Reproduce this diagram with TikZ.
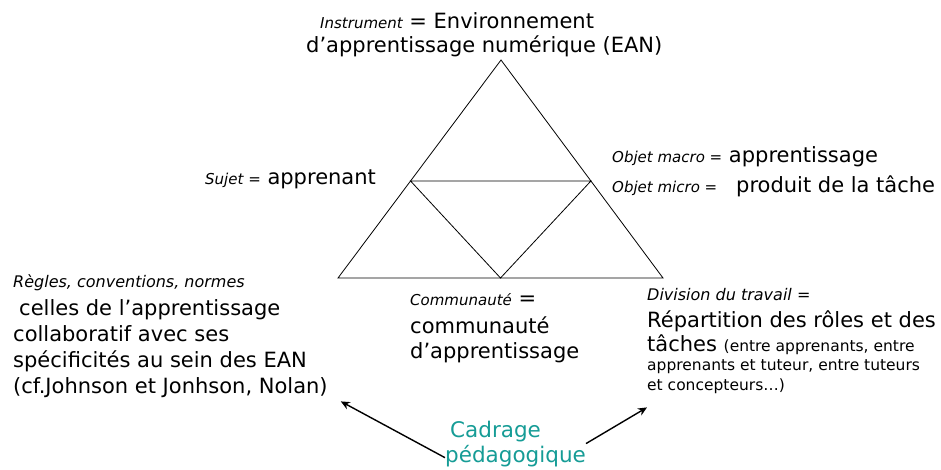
\documentclass[tikz,border=0pt]{standalone}
\usepackage{fontspec}
\setmainfont{DejaVu Sans}
\usepackage{xcolor}
\usepackage{tikz}
\usetikzlibrary{calc,arrows.meta}
\definecolor{ink}{HTML}{000000}
\definecolor{cadre}{HTML}{169C96}
\newcommand{\roletxt}[1]{{\fontsize{15}{18}\selectfont\itshape #1}}
\tikzset{
  main/.style={anchor=base west, inner sep=0pt, text=ink, font=\fontsize{21}{26}\selectfont},
  role/.style={anchor=base west, inner sep=0pt, text=ink, font=\fontsize{16}{19}\selectfont\itshape},
  small/.style={anchor=base west, inner sep=0pt, text=ink, font=\fontsize{15.5}{19}\selectfont},
  tri/.style={draw=ink, line width=0.8pt, line join=miter},
  arr/.style={draw=ink, line width=1.4pt, -{Stealth[length=9pt,width=8pt]}},
}

\begin{document}
\begin{tikzpicture}[x=1pt,y=-1pt]
\useasboundingbox (0,0) rectangle (941,470);
% triangle
\coordinate (apex) at (501,60);
\coordinate (bl) at (338,278);
\coordinate (br) at (663,278);
\coordinate (ml) at ($(apex)!0.555!(bl)$);
\coordinate (mr) at ($(apex)!0.555!(br)$);
\coordinate (mb) at ($(bl)!0.5!(br)$);
\draw[tri] (apex)--(bl)--(br)--cycle;
\draw[tri] (ml)--(mr)--(mb)--cycle;
% poles (multi-line nodes sit on their last baseline)
\node[main] (instr) at (320,29) {\roletxt{Instrument} = Environnement};
\node[main] (ean) at (306,53) {d’apprentissage numérique (EAN)};
\node[main] (sujet) at (205,185) {\roletxt{Sujet =} apprenant};
\node[main] (objmacro) at (612,163) {\roletxt{Objet macro =} apprentissage};
\node[main] (objmicro) at (612,193) {\roletxt{Objet micro =}\hspace{0.9em}produit de la tâche};
\node[role] (rules) at (13,287) {Règles, conventions, normes};
\node[main, align=left] (rulestext) at (13,393)
  {\hspace{6pt}celles de l’apprentissage\\collaboratif avec ses\\spécificités au sein des EAN\\(cf.Johnson et Jonhson, Nolan)};
\node[main] (commu) at (410,305) {\roletxt{Communauté} =};
\node[main, align=left, font=\fontsize{21}{25}\selectfont] (commutext) at (410,358) {communauté\\d’apprentissage};
\node[role] (divis) at (647,300) {Division du travail =};
\node[main] (repart) at (647,327) {Répartition des rôles et des};
\node[main] (taches) at (647,351) {tâches {\fontsize{15.5}{19}\selectfont(entre apprenants, entre}};
\node[small] (tut) at (647,370) {apprenants et tuteur, entre tuteurs};
\node[small] (concep) at (647,390) {et concepteurs…)};
% cadrage
\node[main, align=left, text=cadre, font=\fontsize{21.5}{25}\selectfont] (cadrage) at (445,462)
  {\hspace{5pt}Cadrage\\pédagogique};
\draw[arr] ([yshift=9pt]cadrage.south west) -- ([xshift=13pt,yshift=-4pt]rulestext.south east);
\draw[arr] (cadrage.east) -- ([yshift=-14pt]concep.south west);
\end{tikzpicture}
\end{document}
